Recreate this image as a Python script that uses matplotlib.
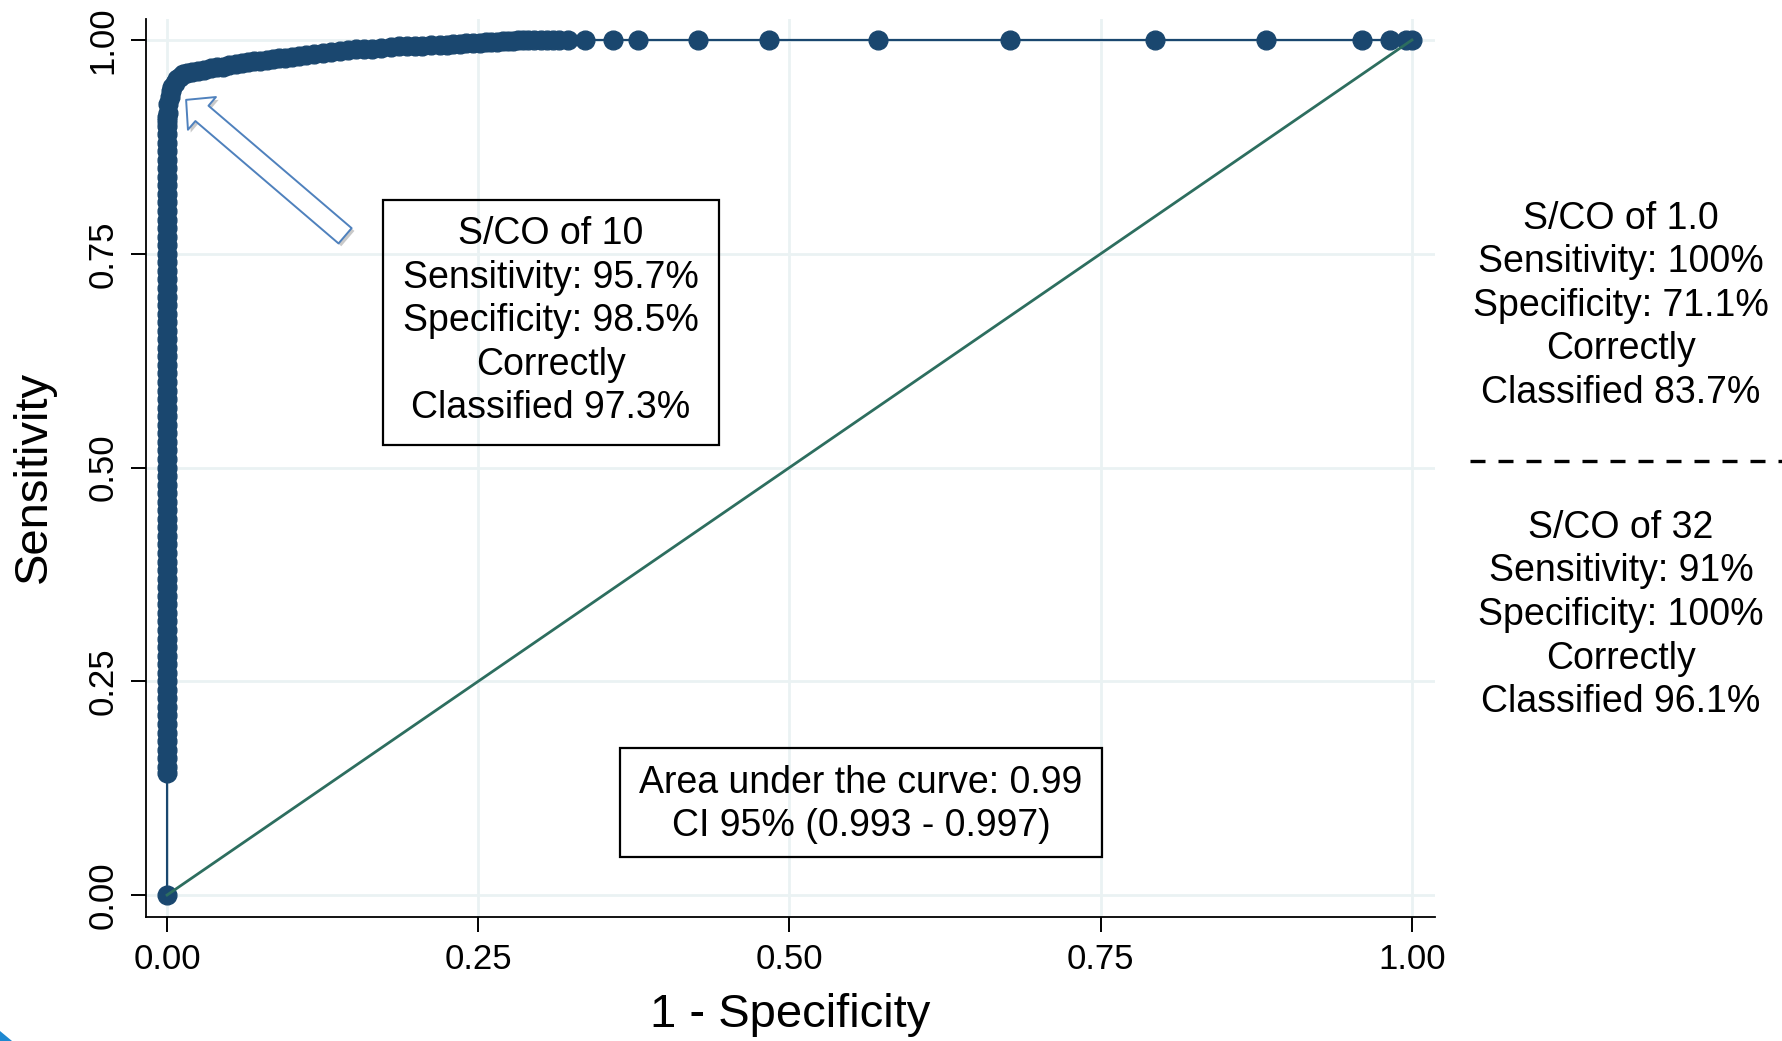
import matplotlib
matplotlib.use("Agg")
import matplotlib.pyplot as plt
import matplotlib.patheffects as pe
from matplotlib.patches import Rectangle, Polygon

plt.rcParams['font.family'] = ['Liberation Sans', 'DejaVu Sans']

# ROC points
# vertical run at 1 - specificity = 0 (sensitivity values)
vert_tpr = [0.0, 0.143, 0.15, 0.16, 0.17, 0.18, 0.19, 0.20, 0.21, 0.22, 0.23,
            0.24, 0.25, 0.26, 0.27, 0.28, 0.29, 0.30, 0.31, 0.32, 0.33,
            0.34, 0.35, 0.36, 0.37, 0.38, 0.39, 0.40, 0.41, 0.42, 0.43,
            0.44, 0.45, 0.46, 0.47, 0.48, 0.49, 0.50, 0.51, 0.52, 0.53,
            0.54, 0.55, 0.56, 0.57, 0.58, 0.59, 0.60, 0.61, 0.62, 0.63,
            0.64, 0.65, 0.66, 0.67, 0.68, 0.69, 0.70, 0.71, 0.72, 0.73,
            0.74, 0.75, 0.76, 0.77, 0.78, 0.79, 0.80, 0.81, 0.82, 0.83,
            0.84, 0.85, 0.86, 0.87, 0.88, 0.89, 0.90, 0.905, 0.91]
vert_fpr = [0.0] * len(vert_tpr)

# bend and upper plateau
top_fpr = [0.0005, 0.001, 0.002, 0.003, 0.004, 0.006, 0.008, 0.010, 0.013, 0.016,
           0.020, 0.025, 0.030, 0.035, 0.040, 0.045, 0.050, 0.055, 0.060, 0.065,
           0.070, 0.075, 0.080, 0.085, 0.090, 0.095, 0.100, 0.106, 0.112, 0.118,
           0.125, 0.132, 0.139, 0.145, 0.152, 0.158, 0.165, 0.172, 0.180, 0.186,
           0.193, 0.199, 0.205, 0.212, 0.219, 0.225, 0.230, 0.235, 0.240, 0.246,
           0.251, 0.256, 0.260, 0.265, 0.270, 0.274, 0.278, 0.282, 0.286, 0.290,
           0.295, 0.300, 0.305, 0.310, 0.315, 0.322, 0.336, 0.358, 0.378, 0.4265,
           0.4835, 0.571, 0.677, 0.794, 0.883, 0.960, 0.982, 0.995, 1.0]
top_tpr = [0.915, 0.925, 0.933, 0.940, 0.945, 0.950, 0.954, 0.957, 0.960, 0.961,
           0.963, 0.964, 0.965, 0.967, 0.968, 0.969, 0.971, 0.972, 0.973, 0.974,
           0.975, 0.976, 0.977, 0.978, 0.979, 0.979, 0.980, 0.981, 0.982, 0.984,
           0.985, 0.986, 0.9875, 0.988, 0.989, 0.9895, 0.990, 0.991, 0.992, 0.9925,
           0.993, 0.9932, 0.9935, 0.994, 0.994, 0.9945, 0.995, 0.9955, 0.996, 0.9965,
           0.997, 0.9975, 0.998, 0.998, 0.9985, 0.999, 0.999, 0.9995, 1.0, 1.0,
           1.0, 1.0, 1.0, 1.0, 1.0, 1.0, 1.0, 1.0, 1.0, 1.0,
           1.0, 1.0, 1.0, 1.0, 1.0, 1.0, 1.0, 1.0, 1.0]

ref_x = [0.0, 1.0]
ref_y = [0.0, 1.0]

ticks = [0.0, 0.25, 0.5, 0.75, 1.0]
tick_labels = ["0.00", "0.25", "0.50", "0.75", "1.00"]

box_cut10 = "S/CO of 10\nSensitivity: 95.7%\nSpecificity: 98.5%\nCorrectly\nClassified 97.3%"
box_auc = "Area under the curve: 0.99\nCI 95% (0.993 - 0.997)"
side_cut1 = "S/CO of 1.0\nSensitivity: 100%\nSpecificity: 71.1%\nCorrectly\nClassified 83.7%"
side_cut32 = "S/CO of 32\nSensitivity: 91%\nSpecificity: 100%\nCorrectly\nClassified 96.1%"

navy = "#1a476f"
teal = "#2d6e5f"
grid_c = "#eaf2f3"

fpr = vert_fpr + top_fpr
tpr = vert_tpr + top_tpr

fig = plt.figure(figsize=(17.83, 10.41), dpi=100)
ax = fig.add_axes([0.0819, 0.1191, 0.7229, 0.8626])

ax.plot(fpr, tpr, color=navy, lw=1.6, marker='o', ms=13.5, mec=navy, mfc=navy, zorder=3)
ax.plot(ref_x, ref_y, color=teal, lw=2.0, zorder=4)

ax.set_xlim(-0.0169, 1.0185)
ax.set_ylim(-0.0257, 1.0245)
ax.set_xticks(ticks)
ax.set_xticklabels(tick_labels)
ax.set_yticks(ticks)
ax.set_yticklabels(tick_labels, rotation=90, va='center')
ax.tick_params(axis='both', labelsize=25, length=11, width=1.4, pad=8)
ax.grid(True, color=grid_c, lw=2.0, zorder=0)
ax.set_axisbelow(True)
for s in ['top', 'right']:
    ax.spines[s].set_visible(False)
for s in ['left', 'bottom']:
    ax.spines[s].set_linewidth(1.3)

ax.set_xlabel("1 - Specificity", fontsize=34, va='center')
ax.xaxis.set_label_coords(0.5, -0.109)
ax.set_ylabel("Sensitivity", fontsize=34, va='center')
ax.yaxis.set_label_coords(-0.087, 0.49)

# annotation boxes
ax.add_patch(Rectangle((0.1735, 0.526), 0.4434 - 0.1735, 0.813 - 0.526,
                       fill=False, ec='black', lw=1.6, zorder=5))
ax.text(0.3085, 0.671, box_cut10, ha='center', va='center', fontsize=27,
        linespacing=1.27, zorder=6)

ax.add_patch(Rectangle((0.364, 0.0444), 0.751 - 0.364, 0.172 - 0.0444,
                       fill=False, ec='black', lw=1.6, zorder=5))
ax.text(0.5575, 0.106, box_auc, ha='center', va='center', fontsize=27,
        linespacing=1.27, zorder=6)

# text on the right, outside the plot
ax.text(1.168, 0.689, side_cut1, ha='center', va='center', fontsize=27,
        linespacing=1.27, clip_on=False)
ax.text(1.168, 0.3275, side_cut32, ha='center', va='center', fontsize=27,
        linespacing=1.27, clip_on=False)
ax.plot([1.047, 1.31], [0.508, 0.508], color='black', lw=2.4,
        dashes=(4.5, 3.9), clip_on=False)

# hollow block arrow pointing at the S/CO 10 cut-off
ax.annotate("", xy=(0.0153, 0.930), xytext=(0.143, 0.771),
            arrowprops=dict(arrowstyle='simple,head_length=1.5,head_width=3.1,tail_width=1.45',
                            fc='white', ec='#4f81bd', lw=1.4, mutation_scale=10,
                            shrinkA=0, shrinkB=0,
                            path_effects=[pe.SimplePatchShadow(offset=(2, -2), alpha=0.3),
                                          pe.Normal()]),
            zorder=7)

# small blue corner in the bottom-left of the slide
fig.patches.append(Polygon([(0, 0), (12 / 1783, 0), (0, 10 / 1041)], closed=True,
                           transform=fig.transFigure, fc='#1e88d0', ec='none'))

fig.savefig("out.png", dpi=100)
